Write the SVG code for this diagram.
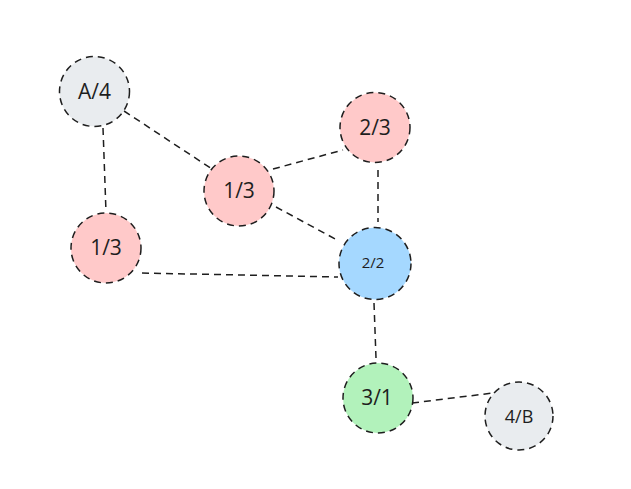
<svg xmlns="http://www.w3.org/2000/svg" width="631" height="489" viewBox="0 0 631 489">
<style>
.n{stroke:#1e1e1e;stroke-width:1.5;stroke-dasharray:7 5}
.e{stroke:#1e1e1e;stroke-width:1.5;stroke-dasharray:7 5;fill:none}
.t{font-family:"Open Sans","Liberation Sans",sans-serif;fill:#1e1e1e;text-anchor:middle;dominant-baseline:central}
.gray{fill:#e9ecef}.pink{fill:#ffc9c9}.blue{fill:#a5d8ff}.green{fill:#b2f2bb}
</style>
<rect width="631" height="489" fill="#ffffff"/>
<g id="connectors">
<path class="e" d="M103 128 L106 212"/>
<path class="e" d="M124 111 L212 169"/>
<path class="e" d="M273 169 L343 150"/>
<path class="e" d="M378 170 L378 222"/>
<path class="e" d="M276 207 L339 241"/>
<path class="e" d="M142 273 L338 277"/>
<path class="e" d="M374 303 L376 358"/>
<path class="e" d="M412 403 L493 393"/>
</g>
<g id="nodeA4"><circle class="n gray" cx="94.5" cy="91.5" r="35"/><text class="t" x="94.5" y="91" font-size="21">A/4</text></g>
<g id="node23"><circle class="n pink" cx="375" cy="127.5" r="35"/><text class="t" x="375" y="127" font-size="21">2/3</text></g>
<g id="node13a"><circle class="n pink" cx="239" cy="191" r="35"/><text class="t" x="239" y="190" font-size="21">1/3</text></g>
<g id="node13b"><circle class="n pink" cx="106" cy="248" r="35"/><text class="t" x="106" y="247" font-size="21">1/3</text></g>
<g id="node22"><circle class="n blue" cx="375" cy="263.5" r="36"/><text class="t" x="373" y="262" font-size="15">2/2</text></g>
<g id="node31"><circle class="n green" cx="378" cy="398" r="35"/><text class="t" x="377" y="397" font-size="21">3/1</text></g>
<g id="node4B"><circle class="n gray" cx="519" cy="416" r="34"/><text class="t" x="519" y="416" font-size="18">4/B</text></g>
</svg>
